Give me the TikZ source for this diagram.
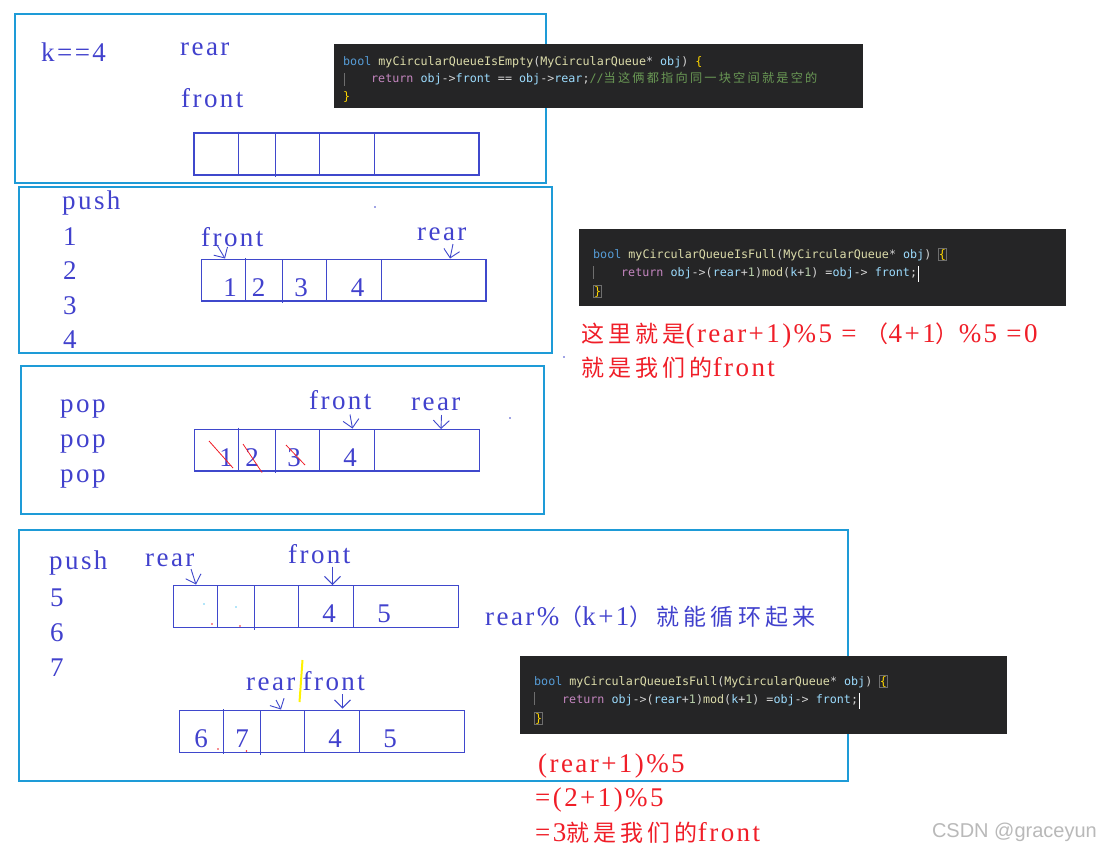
\documentclass[tikz,border=0pt]{standalone}
\usepackage{fontspec}
\setmainfont{Liberation Serif}[LetterSpace=9]
\newfontfamily\cjk{Noto Sans CJK SC}[LetterSpace=18]
\newfontfamily\codefont{DejaVu Sans Mono}
\newfontfamily\wmfont{Liberation Sans}
\usetikzlibrary{arrows.meta}
\definecolor{frame}{RGB}{30,155,215}
\definecolor{ink}{RGB}{63,72,204}
\definecolor{txtblue}{RGB}{65,65,205}
\definecolor{redink}{RGB}{240,30,40}
\definecolor{codebg}{RGB}{37,37,38}
\definecolor{ckw}{RGB}{86,156,214}
\definecolor{cfn}{RGB}{220,220,170}
\definecolor{cvar}{RGB}{156,220,254}
\definecolor{cret}{RGB}{197,134,192}
\definecolor{cpl}{RGB}{212,212,212}
\definecolor{ccom}{RGB}{106,153,85}
\definecolor{cnum}{RGB}{181,206,168}
\definecolor{cbr}{RGB}{255,215,0}
\definecolor{yel}{RGB}{255,242,0}
\definecolor{wm}{RGB}{185,185,185}
\definecolor{guide}{RGB}{110,110,110}
\newcommand\cdKw[1]{\textcolor{ckw}{#1}}
\newcommand\cdFn[1]{\textcolor{cfn}{#1}}
\newcommand\cdVar[1]{\textcolor{cvar}{#1}}
\newcommand\cdRet[1]{\textcolor{cret}{#1}}
\newcommand\cdPl[1]{\textcolor{cpl}{#1}}
\newcommand\cdCom[1]{\textcolor{ccom}{#1}}
\newcommand\cdNum[1]{\textcolor{cnum}{#1}}
\newcommand\cdBr[1]{\textcolor{cbr}{#1}}
\newcommand\cj[1]{{\cjk\fontsize{23}{27}\selectfont #1}}
\newcommand\cjs[1]{{\cjk\fontsize{12.2}{14}\selectfont #1}}
\begin{document}
\begin{tikzpicture}[x=1pt,y=-1pt,
  box/.style={draw=frame,line width=1.1pt},
  arr/.style={draw=ink,line width=1.2pt},
  lbl/.style={text=txtblue,inner sep=0pt,anchor=base west,font=\fontsize{27}{30}\selectfont},
  num/.style={text=txtblue,inner sep=0pt,anchor=base,font=\fontsize{27}{30}\selectfont},
  rlbl/.style={lbl,text=redink},
  ptr/.style={draw=ink,line width=0.9pt,-{Straight Barb[length=8pt,width=16pt]}},
  strike/.style={draw=redink,line width=0.8pt},
  codeline/.style={inner sep=0pt,anchor=base west,text=cpl,font=\codefont\fontsize{11.7}{14}\selectfont},
  brnode/.style={codeline,draw=guide,line width=0.6pt,inner sep=0.7pt},
  cursor/.style={draw=white,line width=0.9pt},
  igd/.style={draw=guide,line width=0.6pt},
  speck/.style={inner sep=0pt,minimum size=1.6pt,circle},
]
\useasboundingbox[fill=white] (0,0) rectangle (1101,849);

% ---------------- panel 1 ----------------
\draw[box] (15,14) rectangle (546,183);
\node[lbl] (k4) at (41,61) {k==4};
\node[lbl] (rear0) at (180,55) {rear};
\node[lbl] (front0) at (181,107) {front};
\draw[arr] (194,133) rectangle (479,175);
\draw[arr] (238.5,131.5) -- (238.5,175);
\draw[arr] (275.5,133) -- (275.5,177);
\draw[arr] (319.5,133) -- (319.5,175);
\draw[arr] (374.5,133) -- (374.5,175);

\fill[codebg] (334,44) rectangle (863,108);
\node[codeline] (c1a) at (343,65) {\cdKw{bool} \cdFn{myCircularQueueIsEmpty}(\cdFn{MyCircularQueue}* \cdVar{obj}) \cdBr{\{}};
\node[codeline] (c1b) at (371,82) {\cdRet{return} \cdVar{obj}->\cdVar{front} == \cdVar{obj}->\cdVar{rear};\cdCom{//\cjs{当这俩都指向同一块空间就是空的}}};
\node[codeline] (c1c) at (343,100) {\cdBr{\}}};
\draw[igd] (344.5,73) -- (344.5,86);

% ---------------- panel 2 ----------------
\draw[box] (19,187) rectangle (552,353);
\node[lbl] (push1) at (62,209) {push};
\node[lbl] (p1) at (63,245) {1};
\node[lbl] (p2) at (63,279) {2};
\node[lbl] (p3) at (63,314) {3};
\node[lbl] (p4) at (63,348) {4};
\node[lbl] (front1) at (201,246) {front};
\node[lbl] (rear1) at (417,240) {rear};
\draw[arr] (201.5,259.5) rectangle (486,301);
\draw[arr] (245.5,258) -- (245.5,301);
\draw[arr] (282.5,259.5) -- (282.5,303);
\draw[arr] (326.5,259.5) -- (326.5,301);
\draw[arr] (381.5,259.5) -- (381.5,301);
\node[num] (a1) at (230,296) {1};
\node[num] (a2) at (258.5,296) {2};
\node[num] (a3) at (301,296) {3};
\node[num] (a4) at (357.5,296) {4};
\coordinate (f1s) at (217,245);
\coordinate (f1e) at (225,258.5);
\coordinate (r1s) at (453,244);
\coordinate (r1e) at (450,258.5);
\draw[ptr] (f1s) -- (f1e);
\draw[ptr] (r1s) -- (r1e);
\node[speck,fill=ink] (d1) at (375,207) {};

\fill[codebg] (579,229) rectangle (1066,306);
\node[codeline] (c2a) at (593,258) {\cdKw{bool} \cdFn{myCircularQueueIsFull}(\cdFn{MyCircularQueue}* \cdVar{obj})};
\node[brnode] (c2br) at ([xshift=6.3pt]c2a.base east) {\cdBr{\{}};
\node[codeline] (c2b) at (621,276) {\cdRet{return} \cdVar{obj}->(\cdVar{rear}+\cdNum{1})\cdFn{mod}(\cdVar{k}+\cdNum{1}) =\cdVar{obj}-> \cdVar{front};};
\node[brnode] (c2c) at (593,295) {\cdBr{\}}};
\draw[cursor] ([xshift=1.5pt,yshift=-3pt]c2b.south east) -- ([xshift=1.5pt,yshift=1pt]c2b.north east);
\draw[igd] (593.5,266) -- (593.5,279);

\node[rlbl] (red1) at (581,342) {\cj{这里就是}(rear+1)\%5 = \cj{（}4+1\cj{）}\%5 =0};
\node[rlbl] (red2) at (581,376) {\cj{就是我们的}front};
\node[speck,fill=ink] (d2) at (564,357) {};

% ---------------- panel 3 ----------------
\draw[box] (21,366) rectangle (544,514);
\node[lbl] (pop1) at (60,412) {pop};
\node[lbl] (pop2) at (60,447) {pop};
\node[lbl] (pop3) at (60,482) {pop};
\node[lbl] (front2) at (309,409) {front};
\node[lbl] (rear2) at (411,410) {rear};
\draw[arr] (194.5,429.5) rectangle (479.5,471);
\draw[arr] (238.5,427.5) -- (238.5,471);
\draw[arr] (275.5,429.5) -- (275.5,473);
\draw[arr] (319.5,429.5) -- (319.5,471);
\draw[arr] (374.5,429.5) -- (374.5,471);
\node[num] (b1) at (226,466) {1};
\node[num] (b2) at (252,466) {2};
\node[num] (b3) at (294,466) {3};
\node[num] (b4) at (350,466) {4};
\draw[strike] (209,441) -- (233,468);
\draw[strike] (243,444) -- (262,472.5);
\draw[strike] (286,445) -- (305,465);
\coordinate (f2s) at (350,414.5);
\coordinate (f2e) at (352.5,428.5);
\coordinate (r2s) at (441.5,415);
\coordinate (r2e) at (441,429);
\draw[ptr] (f2s) -- (f2e);
\draw[ptr] (r2s) -- (r2e);
\node[speck,fill=ink] (d3) at (510,418) {};

% ---------------- panel 4 ----------------
\draw[box] (19,530) rectangle (848,781);
\node[lbl] (push2) at (49,569) {push};
\node[lbl] (q5) at (50,606) {5};
\node[lbl] (q6) at (50,641) {6};
\node[lbl] (q7) at (50,676) {7};
\node[lbl] (rear3) at (145,566) {rear};
\node[lbl] (front3) at (288,563) {front};
\draw[arr] (173.5,585.5) rectangle (458.5,627.5);
\draw[arr] (217.5,585.5) -- (217.5,628);
\draw[arr] (254.5,585.5) -- (254.5,629.5);
\draw[arr] (298.5,585.5) -- (298.5,627.5);
\draw[arr] (353.5,585.5) -- (353.5,627.5);
\node[num] (e4) at (329,622) {4};
\node[num] (e5) at (384,622) {5};
\node[speck,fill=cyan!60] (s1) at (204,604) {};
\node[speck,fill=cyan!60] (s2) at (236,607) {};
\node[speck,fill=redink] (s3) at (212,624) {};
\node[speck,fill=redink] (s4) at (240,626) {};
\coordinate (r3s) at (191,569);
\coordinate (r3e) at (196,584.5);
\coordinate (f3s) at (332.5,566.5);
\coordinate (f3e) at (332.5,585);
\draw[ptr] (r3s) -- (r3e);
\draw[ptr] (f3s) -- (f3e);
\node[lbl] (note) at (485,625) {rear\%\cj{（}k+1\cj{）就能循环起来}};

\node[lbl] (rear4) at (246,690) {rear};
\node[lbl] (front4) at (302.5,690) {front};
\draw[draw=yel,line width=2pt] (302.5,660) -- (299.5,702);
\draw[arr] (179.5,710.5) rectangle (464.5,752.5);
\draw[arr] (223.5,709) -- (223.5,753.5);
\draw[arr] (260.5,710.5) -- (260.5,755);
\draw[arr] (304.5,710.5) -- (304.5,752.5);
\draw[arr] (359.5,710.5) -- (359.5,752.5);
\node[num] (g6) at (201,747) {6};
\node[num] (g7) at (242,747) {7};
\node[num] (g4) at (335,747) {4};
\node[num] (g5) at (390,747) {5};
\node[speck,fill=redink] (s5) at (218,749) {};
\node[speck,fill=redink] (s6) at (246.5,751) {};
\coordinate (r4s) at (276,700);
\coordinate (r4e) at (281,709.5);
\coordinate (f4s) at (342.5,694);
\coordinate (f4e) at (342.5,708.5);
\draw[ptr] (r4s) -- (r4e);
\draw[ptr] (f4s) -- (f4e);

\fill[codebg] (520,656) rectangle (1007,734);
\node[codeline] (c3a) at (534,685) {\cdKw{bool} \cdFn{myCircularQueueIsFull}(\cdFn{MyCircularQueue}* \cdVar{obj})};
\node[brnode] (c3br) at ([xshift=6.3pt]c3a.base east) {\cdBr{\{}};
\node[codeline] (c3b) at (562,703) {\cdRet{return} \cdVar{obj}->(\cdVar{rear}+\cdNum{1})\cdFn{mod}(\cdVar{k}+\cdNum{1}) =\cdVar{obj}-> \cdVar{front};};
\node[brnode] (c3c) at (534,722) {\cdBr{\}}};
\draw[cursor] ([xshift=1.5pt,yshift=-3pt]c3b.south east) -- ([xshift=1.5pt,yshift=1pt]c3b.north east);
\draw[igd] (534.5,692) -- (534.5,705);

\node[rlbl] (red3) at (538,772) {(rear+1)\%5};
\node[rlbl] (red4) at (535,806) {=(2+1)\%5};
\node[rlbl] (red5) at (535,841) {=3\cj{就是我们的}front};

\node[anchor=base east,inner sep=0pt,text=wm,font=\wmfont\fontsize{20}{22}\selectfont] (wmk) at (1097,837) {CSDN @graceyun};
\end{tikzpicture}
\end{document}
